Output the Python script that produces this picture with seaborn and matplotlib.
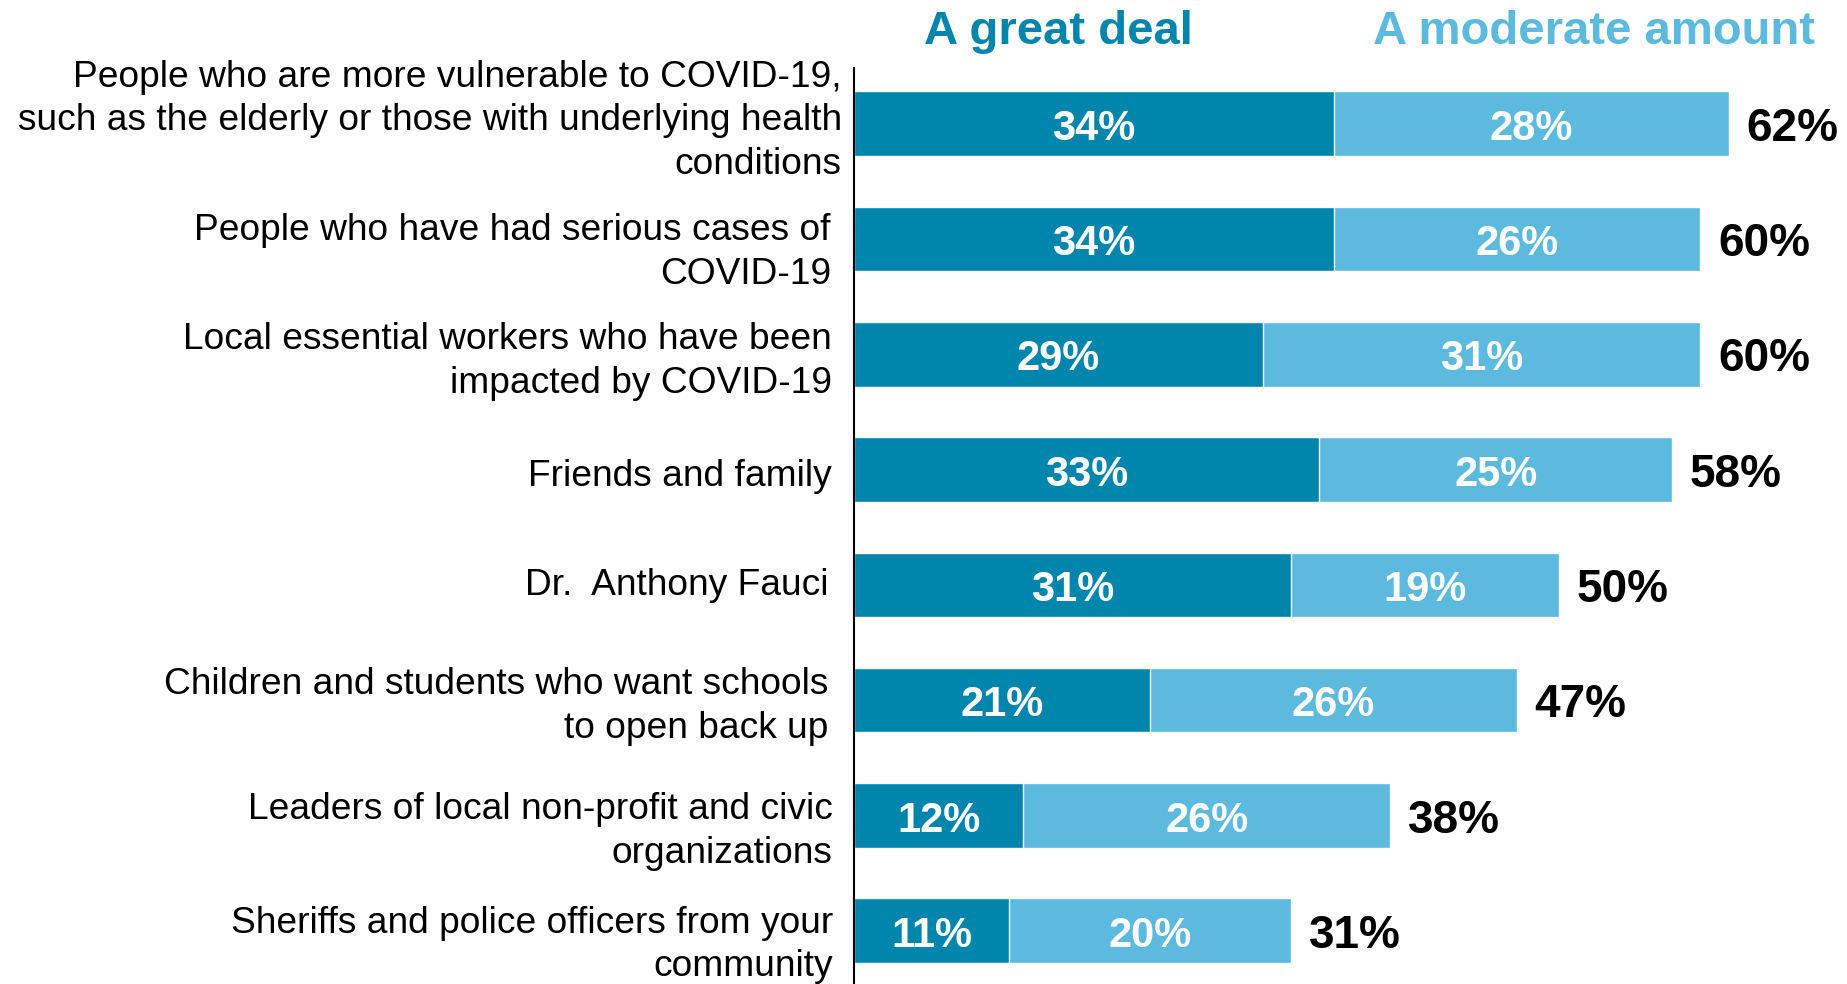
import matplotlib
matplotlib.use("Agg")
import matplotlib.pyplot as plt
import matplotlib.transforms as mtransforms
import seaborn as sns
import pandas as pd

groups = [
    "People who are more vulnerable to COVID-19,\nsuch as the elderly or those with underlying health\nconditions",
    "People who have had serious cases of\nCOVID-19",
    "Local essential workers who have been\nimpacted by COVID-19",
    "Friends and family",
    "Dr.  Anthony Fauci",
    "Children and students who want schools\nto open back up",
    "Leaders of local non-profit and civic\norganizations",
    "Sheriffs and police officers from your\ncommunity",
]
great_deal = [34, 34, 29, 33, 31, 21, 12, 11]
moderate_amount = [28, 26, 31, 25, 19, 26, 26, 20]
series_names = ["A great deal", "A moderate amount"]

# small per-label nudges (pixels: right, down) for the category text
label_nudge_x = [10, -1, 0, 0, -3, -3, 1, 1]
label_nudge_y = [-11, 5, -1, 3, -3, -2, 8, 6]

DARK = "#0085AD"
LIGHT = "#5BBADD"

df = pd.DataFrame({"group": groups, "great": great_deal, "moderate": moderate_amount})
df["total"] = df["great"] + df["moderate"]

sns.set_theme(style="white")
plt.rcParams["font.family"] = ["Liberation Sans", "DejaVu Sans"]

fig = plt.figure(figsize=(18.47, 9.84), dpi=100)
ax = fig.add_axes([854 / 1847, 0.0, 1 - 854 / 1847, 1 - 68 / 984])

# stacked bars: full total in light, the "great deal" share on top in dark
sns.barplot(data=df, x="total", y="group", color=LIGHT, width=0.56,
            saturation=1, ax=ax, orient="h")
sns.barplot(data=df, x="great", y="group", color=DARK, width=0.56,
            saturation=1, ax=ax, orient="h")

ax.set_xlim(0, 70.4)
ax.set_ylim(7.463, -0.483)
ax.set_xlabel("")
ax.set_ylabel("")
ax.set_xticks([])
for side in ["top", "right", "bottom"]:
    ax.spines[side].set_visible(False)
ax.spines["left"].set_color("black")
ax.spines["left"].set_linewidth(1.5)
ax.tick_params(axis="y", length=0, pad=16, labelsize=26.7, labelcolor="black")

for lbl, dx, dy in zip(ax.get_yticklabels(), label_nudge_x, label_nudge_y):
    lbl.set_linespacing(1.32)
    lbl.set_transform(lbl.get_transform() +
                      mtransforms.ScaledTranslation(dx / 100, -dy / 100, fig.dpi_scale_trans))

yoff = 0.045
for i, row in df.iterrows():
    ax.text(row["great"] / 2, i + yoff, f"{row['great']}%", ha="center", va="center",
            color="white", fontsize=30, fontweight="bold")
    ax.text(row["great"] + row["moderate"] / 2, i + yoff, f"{row['moderate']}%",
            ha="center", va="center", color="white", fontsize=30, fontweight="bold")
    ax.text(row["total"] + 1.25, i + yoff, f"{row['total']}%", ha="left", va="center",
            color="black", fontsize=33, fontweight="bold")

# column headers
fig.text(1058 / 1847, 1 - 44 / 984, series_names[0], ha="center", va="baseline",
         color=DARK, fontsize=34, fontweight="bold")
fig.text(1594 / 1847, 1 - 44 / 984, series_names[1], ha="center", va="baseline",
         color=LIGHT, fontsize=34, fontweight="bold")

fig.savefig("out.png", dpi=100)
